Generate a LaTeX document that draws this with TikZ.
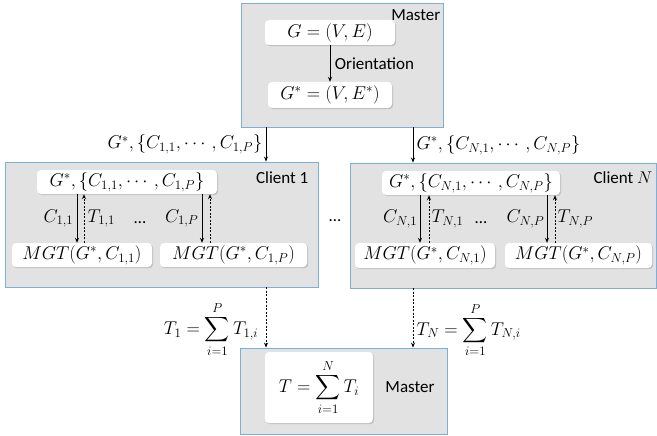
\documentclass[tikz,border=0pt]{standalone}
\usepackage{fix-cm}
\usepackage{amsmath}
\usepackage{fontspec}
\setmainfont{Carlito}
\usepackage{tikz}
\usetikzlibrary{
  arrows.meta,
  positioning,
  calc,
  shadows,
}
\definecolor{boxblue}{HTML}{7AB0DA}
\definecolor{boxgraybg}{HTML}{E2E2E2}

\begin{document}
\begin{tikzpicture}[
    x=1pt, y=-1pt,
    every node/.style={font=\fontsize{18.5}{22}\selectfont},
    outerbox/.style={rectangle, draw=boxblue, fill=boxgraybg, line width=0.9pt,
                     inner sep=0pt},
    innerbox/.style={rectangle, rounded corners=4pt, fill=white, inner sep=0pt,
                     drop shadow={shadow xshift=1.2pt, shadow yshift=-1.2pt,
                                  opacity=0.35}},
    tag/.style={inner sep=1.5pt, font=\fontsize{17}{20}\selectfont},
    >={Stealth[length=5pt, width=4pt]},
    send/.style={->, line width=0.7pt},
    back/.style={->, line width=0.7pt, dash pattern=on 2pt off 1.5pt},
  ]
  \useasboundingbox (0,0) rectangle (657,436);

  % master (top)
  \node[outerbox, minimum width=202pt, minimum height=124pt] (mtop) at (342,65) {};
  \node[tag, anchor=east] (mtoplbl) at (442,15) {Master};
  \node[innerbox, minimum width=130pt, minimum height=25pt] (g) at (330,32.5) {$G=(V,E)$};
  \node[innerbox, minimum width=124pt, minimum height=26pt] (gs) at (330,95) {$G^{*}=(V,E^{*})$};
  \draw[send] (g) -- node[tag, right=3pt] {Orientation} (gs);

  % clients
  \node[outerbox, minimum width=313pt, minimum height=125pt] (c1) at (161.5,224.5) {};
  \node[tag, anchor=east] (c1lbl) at (310,178) {Client 1};
  \node[innerbox, minimum width=180pt, minimum height=24pt] (c1top) at (127,182)
    {$G^{*},\{C_{1,1},\cdots,C_{1,P}\}$};
  \node[innerbox, minimum width=140pt, minimum height=24pt] (c1a) at (82,255)
    {$MGT(G^{*},C_{1,1})$};
  \node[innerbox, minimum width=147pt, minimum height=24pt] (c1b) at (233.5,255)
    {$MGT(G^{*},C_{1,P})$};

  \node[outerbox, minimum width=306pt, minimum height=125pt] (cN) at (503,225.5) {};
  \node[tag, anchor=east] (cNlbl) at (654,178) {Client $N$};
  \node[innerbox, minimum width=178pt, minimum height=24pt] (cNtop) at (471,183)
    {$G^{*},\{C_{N,1},\cdots,C_{N,P}\}$};
  \node[innerbox, minimum width=140pt, minimum height=25pt] (cNa) at (425,255.5)
    {$MGT(G^{*},C_{N,1})$};
  \node[innerbox, minimum width=147pt, minimum height=25pt] (cNb) at (578.5,255.5)
    {$MGT(G^{*},C_{N,P})$};

  \node[tag] (dotsmid) at (335,221) {\dots};
  \node[tag] (dots1) at (140,223) {\dots};
  \node[tag] (dotsN) at (481,223) {\dots};

  % master (bottom)
  \node[outerbox, minimum width=207pt, minimum height=86pt] (mbot) at (343.5,391) {};
  \node[innerbox, minimum width=108pt, minimum height=71pt] (tsum) at (319,387.5)
    {$\displaystyle T=\sum_{i=1}^{N}T_{i}$};
  \node[tag] (mbotlbl) at (410,387) {Master};

  % master -> clients
  \coordinate (xl) at (266,0);
  \coordinate (xr) at (413,0);
  \draw[send] (mtop.south -| xl) -- (c1.north -| xl)
    node[midway, left=0pt] {$G^{*},\{C_{1,1},\cdots,C_{1,P}\}$};
  \draw[send] (mtop.south -| xr) -- (cN.north -| xr)
    node[midway, right=0pt] {$G^{*},\{C_{N,1},\cdots,C_{N,P}\}$};

  % inside the clients
  \foreach \bx/\xa/\xb in {c1a/77/84, c1b/202/210, cNa/420/429, cNb/547/555} {
    \coordinate (\bx s) at (\xa,0);
    \coordinate (\bx d) at (\xb,0);
  }
  \draw[send] (c1top.south -| c1as) -- node[left=0pt] {$C_{1,1}$} (c1a.north -| c1as);
  \draw[back] (c1a.north -| c1ad) -- node[right=0pt] {$T_{1,1}$} (c1top.south -| c1ad);
  \draw[send] (c1top.south -| c1bs) -- node[left=0pt] {$C_{1,P}$} (c1b.north -| c1bs);
  \draw[back] (c1b.north -| c1bd) -- (c1top.south -| c1bd);
  \draw[send] (cNtop.south -| cNas) -- node[left=-1pt] {$C_{N,1}$} (cNa.north -| cNas);
  \draw[back] (cNa.north -| cNad) -- node[right=-1pt] {$T_{N,1}$} (cNtop.south -| cNad);
  \draw[send] (cNtop.south -| cNbs) -- node[left=-1pt] {$C_{N,P}$} (cNb.north -| cNbs);
  \draw[back] (cNb.north -| cNbd) -- node[right=-1pt] {$T_{N,P}$} (cNtop.south -| cNbd);

  % clients -> master
  \draw[back] (c1.south -| xl) -- (mbot.north -| xl)
    node[midway, left=4pt, yshift=-12pt] {$\displaystyle T_{1}=\sum_{i=1}^{P}T_{1,i}$};
  \draw[back] (cN.south -| xr) -- (mbot.north -| xr)
    node[midway, right=0pt, yshift=-12pt] {$\displaystyle T_{N}=\sum_{i=1}^{P}T_{N,i}$};
\end{tikzpicture}
\end{document}
